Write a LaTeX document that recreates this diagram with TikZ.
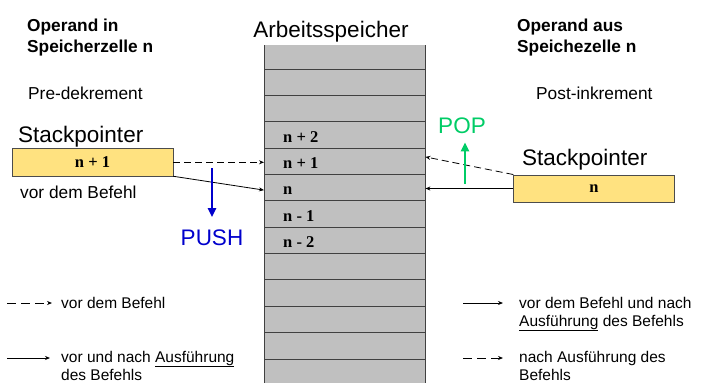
\documentclass[tikz,border=0pt]{standalone}
\usepackage{fontspec}
\setmainfont{Liberation Sans}
\newfontfamily\cellfont{Liberation Serif}
\usetikzlibrary{arrows.meta}
\definecolor{memgray}{RGB}{192,192,192}
\definecolor{spyellow}{RGB}{255,226,128}
\definecolor{pushblue}{RGB}{0,0,204}
\definecolor{popgreen}{RGB}{0,204,102}
\tikzset{
  txt/.style={inner sep=0pt,anchor=base west,font=\fontsize{17.3}{21}\selectfont},
  head/.style={txt,align=left,font=\fontsize{17.3}{21}\selectfont\bfseries},
  big/.style={inner sep=0pt,anchor=base,font=\fontsize{22.5}{26}\selectfont},
  leg/.style={inner sep=0pt,anchor=base west,align=left,font=\fontsize{15.5}{18}\selectfont},
  cell/.style={inner sep=0pt,anchor=base west,font=\cellfont\bfseries\fontsize{16.5}{18}\selectfont},
  spbox/.style={draw=black!70,fill=spyellow,minimum width=161pt,minimum height=27.5pt,inner sep=0pt,
    font=\cellfont\bfseries\fontsize{16.5}{18}\selectfont},
  rowline/.style={black!75,line width=0.9pt},
  ptr/.style={-{Stealth[length=5pt,width=4pt]},line width=0.8pt},
  ptrdash/.style={ptr,dash pattern=on 7pt off 4pt},
  legdash/.style={ptr,dash pattern=on 9pt off 5pt},
  thick arrow/.style={-{Triangle[length=9pt,width=8pt]},line width=2.2pt}
}
\begin{document}
\begin{tikzpicture}[x=1pt,y=-1pt]
  \useasboundingbox (0,0) rectangle (710,383);
  \node[fill=memgray,minimum width=161pt,minimum height=338pt,inner sep=0pt,anchor=north west] (mem) at (264,45) {};
  \foreach \i in {0,...,11}
    \draw[rowline] (264,69+26.36*\i) -- (425,69+26.36*\i);
  \draw[rowline] (mem.north west) -- (mem.south west)
                 (mem.north east) -- (mem.south east);
  \node[big] (title) at (331,37) {Arbeitsspeicher};
  \node[cell] (n2) at (283,142) {n + 2};
  \node[cell] (n1) at (283,168) {n + 1};
  \node[cell] (n0) at (283,194) {n};
  \node[cell] (m1) at (283,221) {n - 1};
  \node[cell] (m2) at (283,247) {n - 2};

  \node[head] (opin) at (27,52) {Operand in\\Speicherzelle n};
  \node[txt] (pre) at (28,99) {Pre-dekrement};
  \node[big,anchor=base west] (spltxt) at (18,142) {Stackpointer};
  \node[spbox] (spl) at (92.5,162.3) {n + 1};
  \node[txt] (vorl) at (20,198) {vor dem Befehl};
  \node[big,text=pushblue] (push) at (212,245) {PUSH};
  \coordinate (pushs) at (212,168);

  \node[head] (opaus) at (517,52) {Operand aus\\Speichezelle n};
  \node[txt] (post) at (536,99) {Post-inkrement};
  \node[big,anchor=base west] (sprtxt) at (522,165) {Stackpointer};
  \node[spbox] (spr) at (594,188.5) {n};
  \node[big,text=popgreen] (pop) at (462,133) {POP};
  \coordinate (pops) at (465,184);

  \draw[ptrdash] (spl.east) -- (spl.east -| mem.west);
  \draw[ptr] (spl.south east) -- (mem.west |- n0);
  \draw[ptr] (spr.west) -- (spr.west -| mem.east);
  \draw[ptrdash] (spr.north west) -- (mem.east |- n1.north);
  \draw[thick arrow,draw=pushblue,fill=pushblue,shorten >=12pt] (pushs) -- (pushs |- push.north);
  \draw[thick arrow,draw=popgreen,fill=popgreen,shorten >=9pt] (pops) -- (pops |- pop.south);

  \node[leg] (l1) at (61,308) {vor dem Befehl};
  \node[leg] (l2) at (61,380) {vor und nach \underline{Ausführung}\\des Befehls};
  \node[leg] (r1) at (519,326) {vor dem Befehl und nach\\\underline{Ausführung} des Befehls};
  \node[leg] (r2) at (519,380) {nach Ausführung des\\Befehls};
  \coordinate (la1) at (7,303);
  \coordinate (la2) at (7,358);
  \coordinate (ra1) at (463,303);
  \coordinate (ra2) at (463,358);
  \draw[legdash,shorten >=9pt] (la1) -- (la1 -| l1.west);
  \draw[ptr,shorten >=11pt] (la2) -- (la2 -| l2.west);
  \draw[ptr,shorten >=16pt] (ra1) -- (ra1 -| r1.west);
  \draw[legdash,shorten >=16pt] (ra2) -- (ra2 -| r2.west);
\end{tikzpicture}
\end{document}
